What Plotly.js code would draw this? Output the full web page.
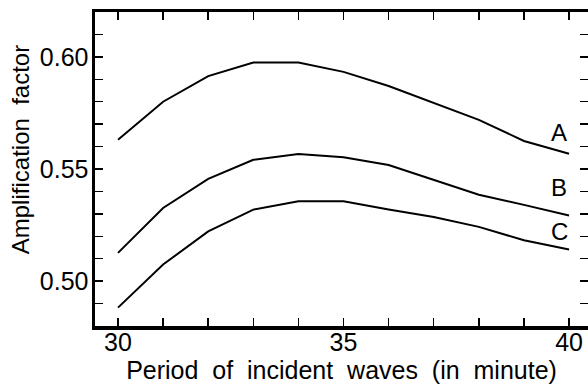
<!DOCTYPE html>
<html><head><meta charset="utf-8">
<script src="https://cdn.plot.ly/plotly-3.0.1.min.js"></script>
<style>html,body{margin:0;padding:0;background:#fff}#c{width:588px;height:384px}</style>
</head><body><div id="c"></div>
<script>
const period = [30, 31, 32, 33, 34, 35, 36, 37, 38, 39, 40];
const curveA = [0.563, 0.580, 0.5914, 0.5975, 0.5975, 0.5933, 0.587, 0.5795, 0.5719, 0.5625, 0.5568];
const curveB = [0.5126, 0.5326, 0.5456, 0.5541, 0.5567, 0.5552, 0.5518, 0.545, 0.5385, 0.534, 0.5293];
const curveC = [0.4882, 0.5074, 0.5222, 0.5319, 0.5356, 0.5356, 0.5319, 0.5286, 0.5242, 0.5182, 0.5141];
const curveNames = ['A', 'B', 'C'];
const xTickVals = [30,31,32,33,34,35,36,37,38,39,40];
const xTickText = ['30','','','','','35','','','','','40'];
const yTickVals = [0.48,0.49,0.50,0.51,0.52,0.53,0.54,0.55,0.56,0.57,0.58,0.59,0.60,0.61,0.62];
const yTickText = ['','','0.50','','','','','0.55','','','','','0.60','',''];
const xTitle = 'Period&nbsp; of&nbsp; incident&nbsp; waves&nbsp; (in&nbsp; minute)';
const yTitle = 'Amplification&nbsp; factor';

const font = 'Liberation Sans, Arial, Helvetica, sans-serif';
const series = [curveA, curveB, curveC];
const traces = series.map((ys, i) => ({
  x: period, y: ys, type: 'scatter', mode: 'lines', name: curveNames[i],
  line: {color: '#000', width: 2}, showlegend: false, hoverinfo: 'skip'
}));
const labelY = [0.5661, 0.5417, 0.5221];
const annotations = curveNames.map((n, i) => ({
  x: 39.78, y: labelY[i], xref: 'x', yref: 'y', text: n, showarrow: false,
  font: {family: font, size: 24, color: '#000'}
}));
annotations.push({
  xref: 'paper', yref: 'paper', x: -0.152, y: 0.56, xanchor: 'center', yanchor: 'middle',
  text: yTitle, textangle: -90, showarrow: false,
  font: {family: font, size: 24, color: '#000'}
});
Plotly.newPlot('c', traces, {
  width: 588, height: 384,
  margin: {l: 95, r: 0, t: 12, b: 58},
  paper_bgcolor: '#fff', plot_bgcolor: '#fff',
  xaxis: {
    range: [29.49, 40.42], tickvals: xTickVals, ticktext: xTickText,
    ticks: 'inside', ticklen: 8, tickwidth: 1.5, tickcolor: '#000',
    showline: true, linewidth: 3.5, linecolor: '#000', mirror: 'allticks',
    showgrid: false, zeroline: false, ticklabelstandoff: -9,
    tickfont: {family: font, size: 25, color: '#000'},
    title: {text: xTitle, font: {family: font, size: 25, color: '#000'}, standoff: 8}
  },
  yaxis: {
    range: [0.48, 0.62], tickvals: yTickVals, ticktext: yTickText,
    ticks: 'inside', ticklen: 8, tickwidth: 1.5, tickcolor: '#000',
    showline: true, linewidth: 3.5, linecolor: '#000', mirror: 'allticks',
    showgrid: false, zeroline: false, ticklabelstandoff: -2,
    tickfont: {family: font, size: 25, color: '#000'}
  },
  annotations: annotations
}, {staticPlot: true, displayModeBar: false});
</script></body></html>
